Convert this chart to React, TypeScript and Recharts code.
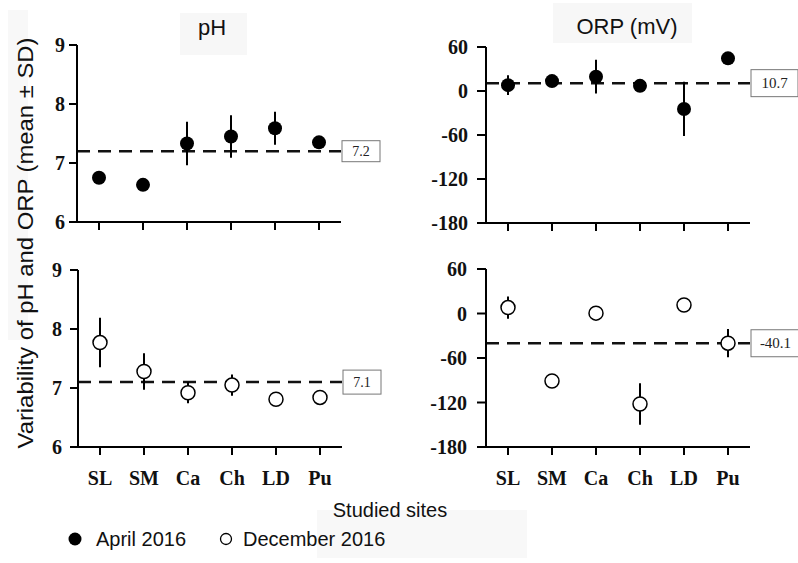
import React from "react";
import {
  ErrorBar,
  ReferenceLine,
  Scatter,
  ScatterChart,
  XAxis,
  YAxis,
} from "recharts";

const sites = ["SL", "SM", "Ca", "Ch", "LD", "Pu"];
const siteTicks = [1, 2, 3, 4, 5, 6];

const phApril = [6.75, 6.63, 7.33, 7.45, 7.59, 7.35];
const phAprilSd = [0.05, 0.1, 0.37, 0.36, 0.28, 0.04];
const orpApril = [8, 13.5, 19.5, 7, -24.5, 44.5];
const orpAprilSd = [13.5, 4, 23, 2, 37, 2];

const phDec = [7.77, 7.28, 6.92, 7.05, 6.81, 6.84];
const phDecSd = [0.42, 0.31, 0.18, 0.18, 0.03, 0.03];
const orpDec = [8, -91, 0.5, -122, 11.5, -40];
const orpDecSd = [15, 2, 2, 28, 2, 19];

const phTicks = [6, 7, 8, 9];
const orpTicks = [-180, -120, -60, 0, 60];

const phMean = [7.2, 7.1];
const orpMean = [10.7, -40.1];

const SERIF = "'Liberation Serif', 'Times New Roman', serif";
const SANS = "'Liberation Sans', Arial, sans-serif";

const toPoints = (vals: number[], sds: number[]) =>
  vals.map((v, i) => ({ x: i + 1, y: v, sd: sds[i] }));

const RefBox = (props: any) => {
  const { viewBox, text, w, h, fs } = props;
  if (!viewBox) return null;
  const x = viewBox.x + viewBox.width + 1;
  const y = viewBox.y;
  return (
    <g>
      <rect x={x} y={y - h / 2} width={w} height={h} fill="#fff" stroke="#777" strokeWidth={1} />
      <text x={x + w / 2} y={y + fs * 0.35} textAnchor="middle" fontFamily={SERIF} fontSize={fs} fill="#222">
        {text}
      </text>
    </g>
  );
};

const Dot = (props: any) => {
  const { cx, cy, filled } = props;
  return (
    <circle
      cx={cx}
      cy={cy}
      r={7}
      fill={filled ? "#000" : "#fff"}
      stroke="#000"
      strokeWidth={filled ? 0 : 1.5}
    />
  );
};

interface PanelProps {
  left: number;
  top: number;
  width: number;
  height: number;
  yWidth: number;
  marginTop: number;
  marginRight: number;
  xHeight: number;
  domain: [number, number];
  ticks: number[];
  vals: number[];
  sds: number[];
  refValue: number;
  refText: string;
  boxW: number;
  boxH: number;
  boxFont: number;
  filled: boolean;
  showSites: boolean;
  yTickSize: number;
  yTickMargin: number;
}

function Panel(p: PanelProps) {
  const data = toPoints(p.vals, p.sds);
  return (
    <div style={{ position: "absolute", left: p.left, top: p.top }}>
      <ScatterChart
        width={p.width}
        height={p.height}
        margin={{ top: p.marginTop, right: p.marginRight, bottom: 0, left: 0 }}
      >
        <XAxis
          type="number"
          dataKey="x"
          domain={[0.5, 6.5]}
          ticks={siteTicks}
          height={p.xHeight}
          tickFormatter={(v) => (p.showSites ? sites[v - 1] : "")}
          axisLine={{ stroke: "#000", strokeWidth: 2 }}
          tickLine={{ stroke: "#000", strokeWidth: 2 }}
          tickSize={8}
          tickMargin={16}
          tick={{ fill: "#111", fontFamily: SERIF, fontWeight: "bold", fontSize: 20 }}
        />
        <YAxis
          type="number"
          dataKey="y"
          domain={p.domain}
          ticks={p.ticks}
          width={p.yWidth}
          axisLine={{ stroke: "#000", strokeWidth: 2 }}
          tickLine={{ stroke: "#000", strokeWidth: 2 }}
          tickSize={p.yTickSize}
          tickMargin={p.yTickMargin}
          tick={{ fill: "#111", fontFamily: SERIF, fontWeight: "bold", fontSize: 20 }}
        />
        <ReferenceLine
          y={p.refValue}
          stroke="#111"
          strokeWidth={2.5}
          strokeDasharray="13 8"
          label={<RefBox text={p.refText} w={p.boxW} h={p.boxH} fs={p.boxFont} />}
        />
        <Scatter data={data} isAnimationActive={false} shape={(s: any) => <Dot {...s} filled={p.filled} />}>
          <ErrorBar dataKey="sd" direction="y" width={0} stroke="#000" strokeWidth={2} />
        </Scatter>
      </ScatterChart>
    </div>
  );
}

export default function App() {
  return (
    <div
      style={{
        position: "absolute",
        left: 0,
        top: 0,
        width: 798,
        height: 563,
        background: "#fff",
        overflow: "hidden",
      }}
    >
      <svg width={798} height={563} style={{ position: "absolute", left: 0, top: 0 }}>
        <rect x={180} y={13} width={67} height={42} fill="#f7f7f7" />
        <rect x={553} y={3} width={139} height={40} fill="#f7f7f7" />
        <rect x={317} y={510} width={210} height={48} fill="#f8f8f8" />
        <rect x={8} y={10} width={20} height={330} fill="#f8f8f8" />
        <text x={212} y={35} textAnchor="middle" fontFamily={SANS} fontSize={22} fill="#111">
          pH
        </text>
        <text x={627} y={34} textAnchor="middle" fontFamily={SANS} fontSize={22} fill="#111">
          ORP (mV)
        </text>
        <text
          transform="translate(33,243) rotate(-90)"
          textAnchor="middle"
          fontFamily={SANS}
          fontSize={22}
          textLength={411}
          lengthAdjust="spacingAndGlyphs"
          fill="#111"
        >
          Variability of pH and ORP (mean ± SD)
        </text>
        <text x={390} y={517} textAnchor="middle" fontFamily={SANS} fontSize={20} fill="#111">
          Studied sites
        </text>
        <circle cx={75} cy={539} r={6.5} fill="#000" />
        <text x={96} y={546} fontFamily={SANS} fontSize={20} fill="#111">
          April 2016
        </text>
        <circle cx={226} cy={539} r={5.5} fill="#fff" stroke="#000" strokeWidth={1.3} />
        <text x={243} y={546} fontFamily={SANS} fontSize={20} fill="#111">
          December 2016
        </text>
      </svg>

      <Panel
        left={0}
        top={0}
        width={390}
        height={240}
        yWidth={77}
        marginTop={45}
        marginRight={49}
        xHeight={18}
        domain={[6, 9]}
        ticks={phTicks}
        vals={phApril}
        sds={phAprilSd}
        refValue={phMean[0]}
        refText="7.2"
        boxW={38}
        boxH={21}
        boxFont={14}
        filled
        showSites={false}
        yTickSize={8}
        yTickMargin={4}
      />
      <Panel
        left={400}
        top={0}
        width={398}
        height={240}
        yWidth={86}
        marginTop={47}
        marginRight={48}
        xHeight={17}
        domain={[-180, 60]}
        ticks={orpTicks}
        vals={orpApril}
        sds={orpAprilSd}
        refValue={orpMean[0]}
        refText="10.7"
        boxW={47}
        boxH={27}
        boxFont={15}
        filled
        showSites={false}
        yTickSize={9}
        yTickMargin={9}
      />
      <Panel
        left={0}
        top={250}
        width={390}
        height={240}
        yWidth={78}
        marginTop={20}
        marginRight={48}
        xHeight={43}
        domain={[6, 9]}
        ticks={phTicks}
        vals={phDec}
        sds={phDecSd}
        refValue={phMean[1]}
        refText="7.1"
        boxW={38}
        boxH={24}
        boxFont={14}
        filled={false}
        showSites
        yTickSize={8}
        yTickMargin={8}
      />
      <Panel
        left={400}
        top={250}
        width={398}
        height={240}
        yWidth={86}
        marginTop={19}
        marginRight={48}
        xHeight={43}
        domain={[-180, 60]}
        ticks={orpTicks}
        vals={orpDec}
        sds={orpDecSd}
        refValue={orpMean[1]}
        refText="-40.1"
        boxW={49}
        boxH={27}
        boxFont={15}
        filled={false}
        showSites
        yTickSize={9}
        yTickMargin={10}
      />
    </div>
  );
}
